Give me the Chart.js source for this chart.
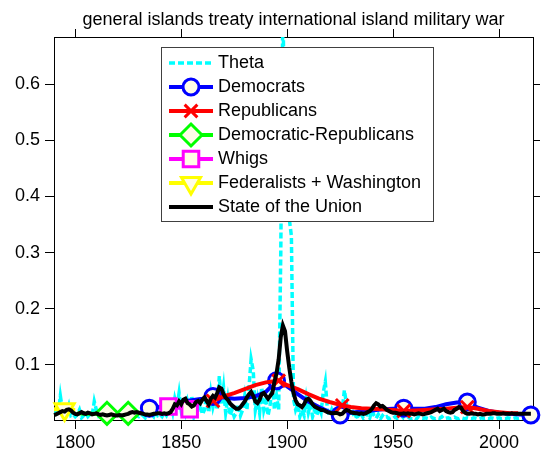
<!DOCTYPE html>
<html>
<head>
<meta charset="utf-8">
<script src="https://cdn.jsdelivr.net/npm/chart.js@4.4.1/dist/chart.umd.min.js"></script>
<style>
  html, body { margin: 0; padding: 0; background: #fff; }
  canvas { display: block; }
</style>
</head>
<body>
<canvas id="chart" width="547" height="458"></canvas>
<script>
// ── Datos ─────────────────────────────────────────────────────────────────────
const titleText = 'general islands treaty international island military war';
const xTicks = [1800, 1850, 1900, 1950, 2000];
const yTicks = [0.1, 0.2, 0.3, 0.4, 0.5, 0.6];

// yearly series start in 1790, one value per year
const firstYear = 1790;
const thetaValues = [
  0.015, 0.02, 0.012, 0.045, 0.02, 0.01, 0.015, 0.028, 0.01, 0.012,   // 1790s
  0.008, 0.012, 0.02, 0.006, 0.01, 0.015, 0.008, 0.012, 0.01, 0.035,  // 1800s
  0.02, 0.01, 0.015, 0.008, 0.012, 0.006, 0.01, 0.015, 0.008, 0.012,  // 1810s
  0.01, 0.006, 0.012, 0.008, 0.01, 0.014, 0.008, 0.012, 0.02, 0.01,   // 1820s
  0.008, 0.012, 0.01, 0.006, 0.015, 0.01, 0.012, 0.008, 0.02, 0.01,   // 1830s
  0.012, 0.008, 0.015, 0.01, 0.02, 0.03, 0.015, 0.04, 0.025, 0.05,    // 1840s
  0.02, 0.03, 0.015, 0.035, 0.02, 0.045, 0.01, 0.025, 0.015, 0.03,    // 1850s
  0.012, 0.02, 0.045, 0.015, 0.05, 0.025, 0.04, 0.02, 0.08, 0.03,     // 1860s
  0.06, 0.015, 0.04, 0.01, 0.02, 0.008, 0.015, 0.03, 0.01, 0.02,      // 1870s
  0.045, 0.02, 0.06, 0.11, 0.09, 0.02, 0.04, 0.015, 0.06, 0.02,       // 1880s
  0.035, 0.01, 0.03, 0.07, 0.02, 0.045, 0.02, 0.3, 0.75, 0.45,        // 1890s
  0.4, 0.36, 0.33, 0.04, 0.02, 0.03, 0.008, 0.02, 0.01, 0.04,         // 1900s
  0.015, 0.03, 0.008, 0.02, 0.01, 0.025, 0.015, 0.05, 0.07, 0.02,     // 1910s
  0.01, 0.02, 0.008, 0.015, 0.005, 0.01, 0.02, 0.055, 0.03, 0.01,     // 1920s
  0.008, 0.015, 0.005, 0.01, 0.006, 0.012, 0.005, 0.008, 0.015, 0.006,// 1930s
  0.02, 0.01, 0.005, 0.012, 0.004, 0.01, 0.006, 0.008, 0.004, 0.006,  // 1940s
  0.005, 0.008, 0.004, 0.006, 0.01, 0.005, 0.004, 0.007, 0.005, 0.004,// 1950s
  0.006, 0.004, 0.008, 0.005, 0.004, 0.006, 0.005, 0.004, 0.007, 0.005,
  0.004, 0.006, 0.005, 0.008, 0.004, 0.005, 0.006, 0.004, 0.005, 0.007,
  0.005, 0.004, 0.006, 0.005, 0.004, 0.006, 0.005, 0.004, 0.006, 0.005,
  0.004, 0.005, 0.006, 0.004, 0.005, 0.004, 0.006, 0.005, 0.004, 0.005,
  0.006, 0.004, 0.005, 0.004, 0.006, 0.005, 0.004, 0.005, 0.006, 0.004,
  0.005, 0.004, 0.006, 0.005, 0.004, 0.005                            // 2010-2015
];
const sotuValues = [
  0.011, 0.012, 0.014, 0.016, 0.018, 0.017, 0.02, 0.021, 0.019, 0.015,
  0.013, 0.012, 0.014, 0.016, 0.014, 0.013, 0.015, 0.014, 0.012, 0.013,
  0.014, 0.012, 0.011, 0.012, 0.011, 0.01, 0.011, 0.012, 0.011, 0.01,
  0.01, 0.011, 0.01, 0.011, 0.012, 0.013, 0.015, 0.016, 0.015, 0.016,
  0.015, 0.014, 0.013, 0.012, 0.012, 0.011, 0.012, 0.013, 0.013, 0.014,
  0.014, 0.013, 0.014, 0.013, 0.014, 0.016, 0.022, 0.03, 0.028, 0.035,
  0.03, 0.038, 0.04, 0.032, 0.03, 0.026, 0.028, 0.034, 0.036, 0.032,
  0.038, 0.042, 0.036, 0.03, 0.04, 0.045, 0.042, 0.05, 0.06, 0.058,
  0.048, 0.042, 0.038, 0.032, 0.028, 0.025, 0.022, 0.022, 0.025, 0.03,
  0.035, 0.042, 0.048, 0.052, 0.045, 0.035, 0.032, 0.038, 0.048, 0.05,
  0.045, 0.04, 0.045, 0.05, 0.07, 0.085, 0.11, 0.15, 0.17, 0.16,
  0.125, 0.095, 0.07, 0.05, 0.037, 0.03, 0.028, 0.025, 0.03, 0.038,
  0.04, 0.036, 0.03, 0.026, 0.024, 0.022, 0.02, 0.02, 0.018, 0.016,
  0.015, 0.014, 0.014, 0.015, 0.014, 0.012, 0.013, 0.017, 0.02, 0.019,
  0.016, 0.015, 0.014, 0.014, 0.013, 0.014, 0.013, 0.014, 0.016, 0.018,
  0.022, 0.028, 0.032, 0.03, 0.026, 0.027, 0.024, 0.02, 0.018, 0.016,
  0.015, 0.015, 0.014, 0.013, 0.013, 0.014, 0.013, 0.014, 0.013, 0.013,
  0.012, 0.013, 0.014, 0.013, 0.012, 0.013, 0.014, 0.015, 0.016, 0.018,
  0.02, 0.022, 0.018, 0.02, 0.022, 0.018, 0.016, 0.015, 0.016, 0.02,
  0.022, 0.025, 0.024, 0.018, 0.015, 0.013, 0.013, 0.014, 0.013, 0.013,
  0.012, 0.013, 0.012, 0.012, 0.013, 0.013, 0.013, 0.014, 0.014, 0.013,
  0.013, 0.013, 0.014, 0.013, 0.013, 0.013, 0.014, 0.013, 0.013, 0.013,
  0.013, 0.013, 0.013, 0.013, 0.013, 0.013
];

// party series (sparse years, marker only on some of them)
const demYears   = [1835, 1840, 1845, 1850, 1855, 1860, 1865, 1870, 1875, 1880, 1885, 1890, 1895, 1900, 1905, 1910, 1915, 1920, 1925, 1930, 1935, 1940, 1945, 1950, 1955, 1960, 1965, 1970, 1975, 1980, 1985, 1990, 1995, 2000, 2005, 2010, 2015];
const demValues  = [0.023, 0.025, 0.03, 0.034, 0.037, 0.04, 0.044, 0.042, 0.04, 0.041, 0.044, 0.052, 0.072, 0.062, 0.048, 0.035, 0.025, 0.016, 0.011, 0.015, 0.017, 0.019, 0.021, 0.022, 0.023, 0.022, 0.022, 0.025, 0.03, 0.033, 0.034, 0.024, 0.018, 0.015, 0.013, 0.012, 0.011];
const demMarkers = [1835, 1865, 1895, 1925, 1955, 1985, 2015];

const repYears   = [1865, 1870, 1875, 1880, 1885, 1890, 1896, 1900, 1905, 1910, 1915, 1920, 1926, 1930, 1935, 1940, 1945, 1950, 1955, 1960, 1965, 1970, 1975, 1980, 1985, 1990, 1995, 2000, 2005, 2009];
const repValues  = [0.036, 0.044, 0.05, 0.057, 0.064, 0.069, 0.072, 0.064, 0.057, 0.048, 0.04, 0.034, 0.028, 0.025, 0.023, 0.022, 0.021, 0.02, 0.018, 0.019, 0.02, 0.021, 0.022, 0.024, 0.025, 0.022, 0.018, 0.016, 0.014, 0.014];
const repMarkers = [1865, 1896, 1926, 1955, 1985];

const drYears   = [1801, 1805, 1810, 1815, 1820, 1825, 1829];
const drValues  = [0.014, 0.013, 0.013, 0.014, 0.013, 0.014, 0.015];
const drMarkers = [1815, 1825];

const whigYears   = [1844, 1849, 1854];
const whigValues  = [0.026, 0.024, 0.021];
const whigMarkers = [1844, 1854];

const fedYears   = [1790, 1795, 1800];
const fedValues  = [0.021, 0.021, 0.02];
const fedMarkers = [1795];

// ── Helpers ───────────────────────────────────────────────────────────────────
const FONT = '"Liberation Sans", Arial, Helvetica, sans-serif';
const CREAM = '#fffce6';

const yearly = vals => vals.map((v, i) => ({ x: firstYear + i, y: v }));
const pairs  = (xs, vals) => xs.map((x, i) => ({ x, y: vals[i] }));
const radii  = (xs, marks, r) => xs.map(x => (marks.includes(x) ? r : 0));

function partySet(label, color, years, values, marks, style, r, extra = {}) {
  return Object.assign({
    label,
    data: pairs(years, values),
    borderColor: color,
    borderWidth: 4,
    pointStyle: style,
    pointRadius: radii(years, marks, r),
    pointBorderWidth: 3,
    pointBorderColor: color,
    pointBackgroundColor: CREAM,
    legendMarker: r,
    clip: false,
  }, extra);
}

// ── Plugins ───────────────────────────────────────────────────────────────────
const boxLegend = {
  id: 'boxLegend',
  afterDatasetsDraw(chart) {
    const { ctx, chartArea } = chart;
    const left = chartArea.left + 107, top = chartArea.top + 10;
    const w = 272, h = 174;
    ctx.save();
    ctx.fillStyle = '#fff';
    ctx.fillRect(left, top, w, h);
    ctx.strokeStyle = '#404040';
    ctx.lineWidth = 1;
    ctx.strokeRect(left + 0.5, top + 0.5, w, h);

    const x0 = left + 8, x1 = left + 52, xm = (x0 + x1) / 2;
    chart.data.datasets.forEach((ds, i) => {
      const y = top + 16 + i * 24;
      ctx.strokeStyle = ds.borderColor;
      ctx.lineWidth = ds.borderWidth;
      ctx.setLineDash(ds.borderDash || []);
      ctx.beginPath();
      ctx.moveTo(x0, y);
      ctx.lineTo(x1, y);
      ctx.stroke();
      ctx.setLineDash([]);
      if (ds.legendMarker) {
        ctx.fillStyle = ds.pointBackgroundColor;
        ctx.strokeStyle = ds.pointBorderColor;
        ctx.lineWidth = ds.pointBorderWidth;
        Chart.helpers.drawPoint(ctx, {
          pointStyle: ds.pointStyle,
          rotation: ds.pointRotation || 0,
          radius: ds.legendMarker,
          borderWidth: ds.pointBorderWidth,
        }, xm, y);
      }
      ctx.fillStyle = '#000';
      ctx.font = `18px ${FONT}`;
      ctx.textAlign = 'left';
      ctx.textBaseline = 'middle';
      ctx.fillText(ds.label, left + 57, y);
    });
    ctx.restore();
  },
};

// ── Chart ─────────────────────────────────────────────────────────────────────
const axisGrid = len => ({ drawOnChartArea: false, drawTicks: true, tickLength: len, color: '#000', lineWidth: 1 });
const axisBorder = { display: true, color: '#000', width: 1 };
const setTicks = list => s => { s.ticks = list.map(v => ({ value: v })); };

new Chart(document.getElementById('chart'), {
  type: 'line',
  data: {
    datasets: [
      {
        label: 'Theta',
        data: yearly(thetaValues),
        borderColor: '#00ffff',
        borderWidth: 3.5,
        borderDash: [6, 3],
        pointRadius: 0,
        order: 6,
      },
      partySet('Democrats', '#0000ff', demYears, demValues, demMarkers, 'circle', 8, { order: 5 }),
      partySet('Republicans', '#ff0000', repYears, repValues, repMarkers, 'crossRot', 9, { order: 4 }),
      partySet('Democratic-Republicans', '#00ff00', drYears, drValues, drMarkers, 'rectRot', 11, { order: 3 }),
      partySet('Whigs', '#ff00ff', whigYears, whigValues, whigMarkers, 'rect', 11, { order: 2 }),
      partySet('Federalists + Washington', '#ffff00', fedYears, fedValues, fedMarkers, 'triangle', 11, { order: 1, pointRotation: 180 }),
      {
        label: 'State of the Union',
        data: yearly(sotuValues),
        borderColor: '#000',
        borderWidth: 4,
        pointRadius: 0,
        clip: false,
        order: 0,
      },
    ],
  },
  options: {
    responsive: false,
    animation: false,
    devicePixelRatio: 1,
    layout: { padding: 0 },
    elements: { line: { tension: 0 } },
    plugins: {
      legend: { display: false },
      tooltip: { enabled: false },
      title: {
        display: true,
        text: titleText,
        fullSize: false,
        color: '#000',
        font: { family: FONT, size: 18, weight: 'normal', lineHeight: 1 },
        padding: { top: 11, bottom: 0 },
      },
    },
    scales: {
      x: {
        type: 'linear', position: 'bottom', min: 1790, max: 2016,
        afterBuildTicks: setTicks(xTicks),
        afterFit: s => { s.height = 38; },
        ticks: { color: '#000', font: { family: FONT, size: 18 }, padding: 3, maxRotation: 0, autoSkip: false, callback: v => String(v) },
        grid: axisGrid(9),
        border: axisBorder,
      },
      xTop: {
        type: 'linear', position: 'top', min: 1790, max: 2016,
        afterBuildTicks: setTicks(xTicks),
        afterFit: s => { s.height = 8; },
        ticks: { display: false },
        grid: axisGrid(8),
        border: axisBorder,
      },
      y: {
        type: 'linear', position: 'left', min: 0.002, max: 0.684,
        afterBuildTicks: setTicks(yTicks),
        afterFit: s => { s.width = 54; },
        ticks: { color: '#000', font: { family: FONT, size: 18 }, padding: 5, callback: v => v.toFixed(1) },
        grid: axisGrid(9),
        border: axisBorder,
      },
      yRight: {
        type: 'linear', position: 'right', min: 0.002, max: 0.684,
        afterBuildTicks: setTicks(yTicks),
        afterFit: s => { s.width = 7; },
        ticks: { display: false },
        grid: axisGrid(7),
        border: axisBorder,
      },
    },
  },
  plugins: [boxLegend],
});
</script>
</body>
</html>
